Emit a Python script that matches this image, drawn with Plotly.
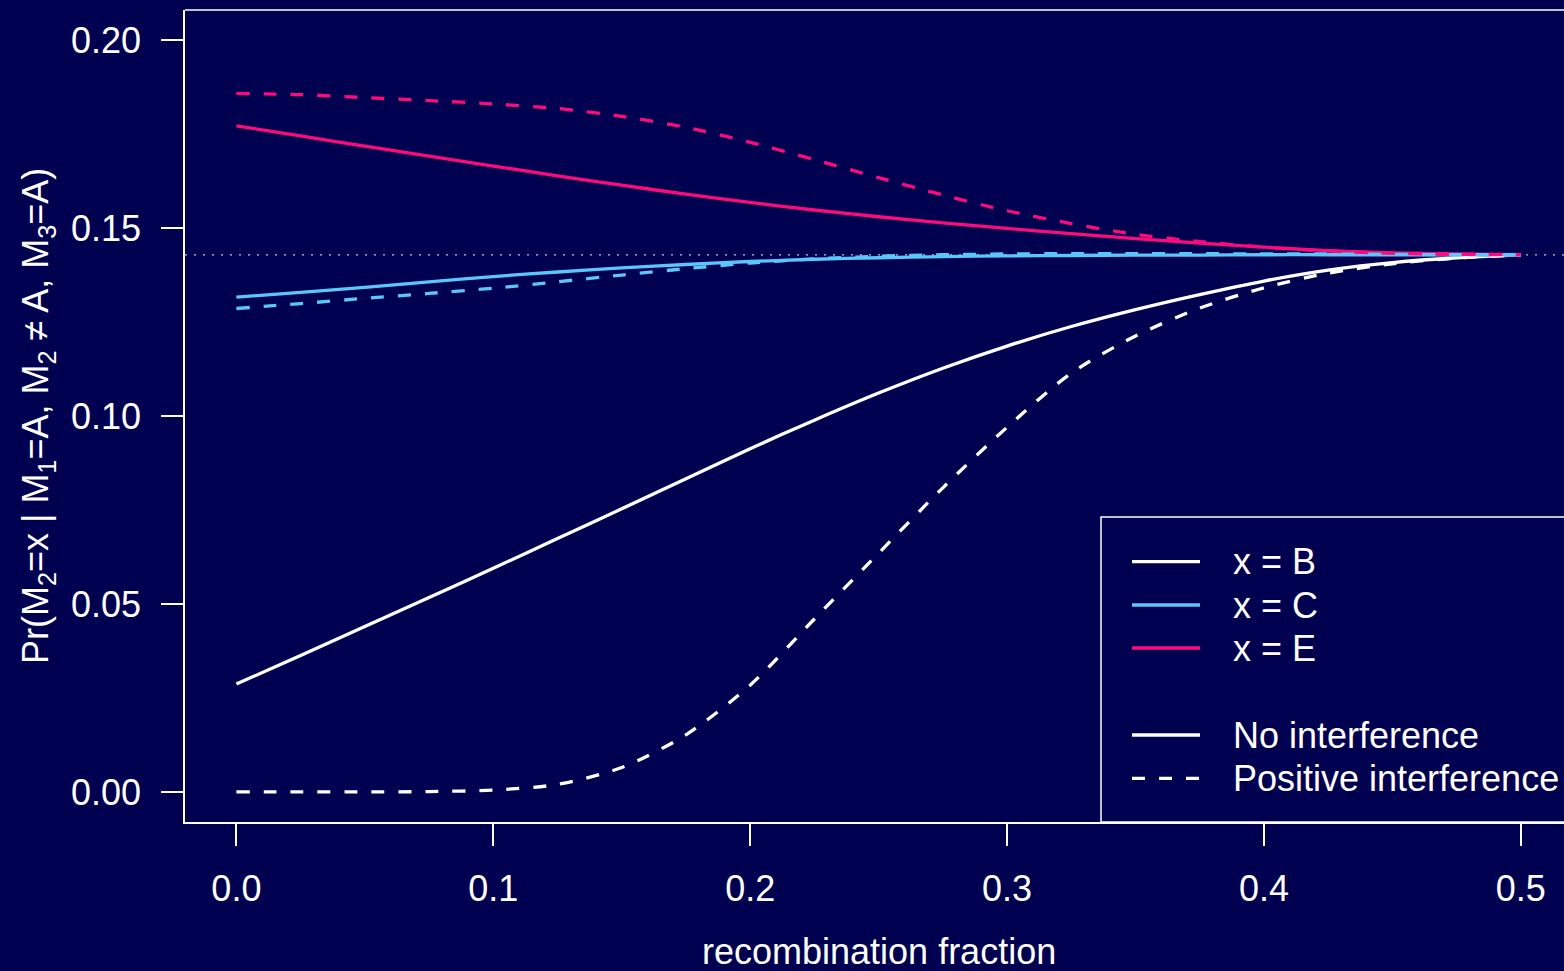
import plotly.graph_objects as go

# ---------------- data ----------------
recomb = [0.0, 0.025, 0.05, 0.075, 0.1, 0.125, 0.15, 0.175, 0.2, 0.225, 0.25,
          0.275, 0.3, 0.325, 0.35, 0.375, 0.4, 0.425, 0.45, 0.475, 0.5]

B_noint = [0.0287, 0.0363, 0.0440, 0.0517, 0.0595, 0.0674, 0.0753, 0.0833, 0.0913, 0.0989, 0.1061,
           0.1127, 0.1186, 0.1238, 0.1283, 0.1323, 0.1359, 0.1388, 0.1408, 0.1421, 0.1429]
C_noint = [0.1316, 0.1329, 0.1342, 0.1357, 0.1371, 0.1383, 0.1394, 0.1403, 0.1411, 0.1417, 0.1421,
           0.1424, 0.1426, 0.1427, 0.1428, 0.1428, 0.1429, 0.1429, 0.1429, 0.1429, 0.1429]
E_noint = [0.1772, 0.1745, 0.1718, 0.1691, 0.1665, 0.1639, 0.1614, 0.1590, 0.1568, 0.1548, 0.1530,
           0.1514, 0.1499, 0.1485, 0.1472, 0.1460, 0.1449, 0.1440, 0.1434, 0.1431, 0.1429]

B_posint = [0.0, 0.0, 0.0, 0.0001, 0.0005, 0.0020, 0.0065, 0.0152, 0.0284, 0.0460, 0.0635,
            0.0809, 0.0970, 0.1114, 0.1213, 0.1287, 0.1341, 0.1380, 0.1405, 0.1420, 0.1429]
C_posint = [0.1286, 0.1299, 0.1313, 0.1326, 0.1340, 0.1357, 0.1375, 0.1392, 0.1407, 0.1418, 0.1425,
            0.1429, 0.1431, 0.1432, 0.1432, 0.1432, 0.1431, 0.1431, 0.1430, 0.1429, 0.1429]
E_posint = [0.1858, 0.1855, 0.1847, 0.1839, 0.1830, 0.1818, 0.1797, 0.1768, 0.1728, 0.1682, 0.1634,
            0.1588, 0.1546, 0.1512, 0.1483, 0.1464, 0.1449, 0.1439, 0.1433, 0.1430, 0.1429]

ref_level = 0.142857  # dotted horizontal reference (1/7)

x_ticks = [0.0, 0.1, 0.2, 0.3, 0.4, 0.5]
y_ticks = [0.00, 0.05, 0.10, 0.15, 0.20]

legend_labels = ["x = B", "x = C", "x = E", "No interference", "Positive interference"]

# ---------------- style ----------------
BG = "#000050"
WHITE = "#ffffff"
BLUE = "#5bc6fa"
PINK = "#ff0a7c"
FONT = "Liberation Sans, Arial, Helvetica, sans-serif"
FS = 36
DASH = "13px,14px"
LW = 3.3

fig = go.Figure()

# reference dotted line
fig.add_trace(go.Scatter(x=[-0.02, 0.52], y=[ref_level, ref_level], mode="lines",
                         line=dict(color="rgba(230,230,230,0.85)", width=1.2, dash="2px,7px"),
                         showlegend=False, hoverinfo="skip"))

series = [
    (B_noint, WHITE, "solid"),
    (C_noint, BLUE, "solid"),
    (E_noint, PINK, "solid"),
    (B_posint, WHITE, DASH),
    (C_posint, BLUE, DASH),
    (E_posint, PINK, DASH),
]
for ys, col, dash in series:
    fig.add_trace(go.Scatter(x=recomb, y=ys, mode="lines",
                             line=dict(color=col, width=LW, dash=dash, shape="spline", smoothing=0.8),
                             showlegend=False))

# ---------------- layout ----------------
L, R, T, B = 185, 0, 10, 149
W, H = 1564, 971
pw = W - L - R
ph = H - T - B

def px_to_paper_x(px):
    return (px - L) / pw

def py_to_paper_y(py):
    return (H - B - py) / ph

shapes = []
# top border of plot box
shapes.append(dict(type="line", xref="paper", yref="paper", x0=0, x1=1.05, y0=1, y1=1,
                   line=dict(color=WHITE, width=1.5)))

# legend box
shapes.append(dict(type="rect", xref="paper", yref="paper",
                   x0=px_to_paper_x(1101), x1=1.1, y0=0, y1=py_to_paper_y(517),
                   line=dict(color=WHITE, width=1.5), fillcolor=BG, layer="above"))

leg_rows = [561.7, 605.0, 648.0, 735.0, 778.3]
leg_styles = [(WHITE, "solid"), (BLUE, "solid"), (PINK, "solid"), (WHITE, "solid"), (WHITE, DASH)]
annotations = []
for lab, yrow, (col, dash) in zip(legend_labels, leg_rows, leg_styles):
    yy = py_to_paper_y(yrow)
    shapes.append(dict(type="line", xref="paper", yref="paper",
                       x0=px_to_paper_x(1132), x1=px_to_paper_x(1200), y0=yy, y1=yy,
                       line=dict(color=col, width=LW, dash=dash), layer="above"))
    annotations.append(dict(text=lab, xref="paper", yref="paper", x=px_to_paper_x(1231), y=yy,
                            xanchor="left", yanchor="middle", showarrow=False,
                            font=dict(family=FONT, size=FS, color=WHITE)))

# axis titles
annotations.append(dict(text="recombination fraction", xref="x", yref="paper", x=0.25,
                        y=py_to_paper_y(951), xanchor="center", yanchor="middle", showarrow=False,
                        font=dict(family=FONT, size=FS, color=WHITE)))
annotations.append(dict(text="Pr(M<sub>2</sub>=x | M<sub>1</sub>=A, M<sub>2</sub> \u2260 A, M<sub>3</sub>=A)",
                        xref="paper", yref="paper", x=px_to_paper_x(38), y=py_to_paper_y(416),
                        xanchor="center", yanchor="middle", textangle=-90, showarrow=False,
                        font=dict(family=FONT, size=FS, color=WHITE)))

fig.update_layout(
    width=W, height=H,
    margin=dict(l=L, r=R, t=T, b=B, autoexpand=False),
    paper_bgcolor=BG, plot_bgcolor=BG,
    font=dict(family=FONT, size=FS, color=WHITE),
    shapes=shapes, annotations=annotations,
    showlegend=False,
)
fig.update_xaxes(range=[-0.02, 0.5168], tickvals=x_ticks, tickformat=".1f",
                 showgrid=False, zeroline=False, showline=True, linecolor=WHITE, linewidth=1.5,
                 ticks="outside", ticklen=22, tickwidth=1.5, tickcolor=WHITE,
                 tickfont=dict(family=FONT, size=FS, color=WHITE), ticklabelstandoff=12)
fig.update_yaxes(range=[-0.008, 0.208], tickvals=y_ticks, tickformat=".2f",
                 showgrid=False, zeroline=False, showline=True, linecolor=WHITE, linewidth=1.5,
                 ticks="outside", ticklen=22, tickwidth=1.5, tickcolor=WHITE,
                 tickfont=dict(family=FONT, size=FS, color=WHITE), ticklabelstandoff=13)

fig.write_html("out.html", config={"displayModeBar": False},
               post_script="document.body.style.margin='0';document.body.style.background='%s';" % BG)
